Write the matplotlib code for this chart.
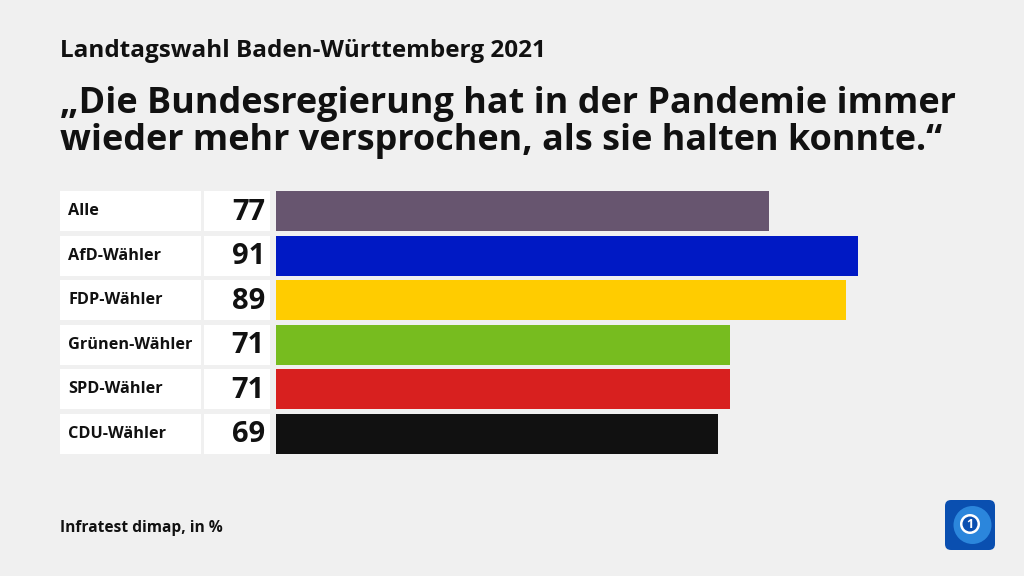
import matplotlib
matplotlib.use("Agg")
import matplotlib.pyplot as plt
from matplotlib.patches import Rectangle, FancyBboxPatch, Circle

categories = ["Alle", "AfD-Wähler", "FDP-Wähler", "Grünen-Wähler", "SPD-Wähler", "CDU-Wähler"]
values = [77, 91, 89, 71, 71, 69]
colors = ["#67556f", "#0019c4", "#ffcc00", "#77bc1f", "#d8201f", "#111111"]

W, H = 1024, 576
BG = "#f0f0f0"
FONT = ["Open Sans", "DejaVu Sans"]

fig = plt.figure(figsize=(W / 100, H / 100), dpi=100, facecolor=BG)

def fx(x):
    return x / W

def fy(y):
    return 1 - y / H

# Titles
fig.text(fx(60), fy(51), "Landtagswahl Baden-Württemberg 2021", fontsize=17.5, fontweight="bold",
         family=FONT, va="center", ha="left", color="#111111")
fig.text(fx(60), fy(104), "„Die Bundesregierung hat in der Pandemie immer", fontsize=25.9, fontweight="bold",
         family=FONT, va="center", ha="left", color="#111111")
fig.text(fx(60), fy(141), "wieder mehr versprochen, als sie halten konnte.“", fontsize=25.9, fontweight="bold",
         family=FONT, va="center", ha="left", color="#111111")

# Bars axis: x from 276 to 916 px for 0..100
top, bottom = 189, 456
ax = fig.add_axes([fx(276), fy(bottom), fx(916) - fx(276), (bottom - top) / H])
ax.set_facecolor("none")
n = len(categories)
pos = list(range(n))
ax.barh(pos, values, height=0.895, color=colors, edgecolor="none")
ax.set_xlim(0, 100)
ax.set_ylim(n - 0.5, -0.5)
ax.axis("off")

# Label boxes and numbers
row_h = (bottom - top) / n
for i, (cat, val) in enumerate(zip(categories, values)):
    yc = top + row_h * (i + 0.5)
    bh = row_h * 0.895
    fig.patches.append(Rectangle((fx(60), fy(yc + bh / 2)), fx(201) - fx(60), bh / H,
                                 transform=fig.transFigure, facecolor="white", edgecolor="none"))
    fig.patches.append(Rectangle((fx(204), fy(yc + bh / 2)), fx(270) - fx(204), bh / H,
                                 transform=fig.transFigure, facecolor="white", edgecolor="none"))
    fig.text(fx(68), fy(yc), cat, fontsize=11.7, fontweight="bold", family=FONT,
             va="center", ha="left", color="#111111")
    fig.text(fx(265), fy(yc + 1), f"{val}", fontsize=21, fontweight="bold", family=FONT,
             va="center", ha="right", color="#111111")

# Footer
fig.text(fx(60), fy(528), "Infratest dimap, in %", fontsize=11.2, fontweight="bold", family=FONT,
         va="center", ha="left", color="#111111")

# Logo
lx0, ly0, ls = 945, 500, 50
lax = fig.add_axes([fx(lx0), fy(ly0 + ls), ls / W, ls / H])
lax.set_xlim(0, 1)
lax.set_ylim(0, 1)
lax.axis("off")
lax.add_patch(FancyBboxPatch((0, 0), 1, 1, boxstyle="round,pad=0,rounding_size=0.12",
                             facecolor="#0a4fb0", edgecolor="none"))
lax.add_patch(Circle((0.55, 0.5), 0.38, facecolor="#2b86dc", edgecolor="none"))
lax.add_patch(Circle((0.5, 0.52), 0.2, facecolor="white", edgecolor="none"))
lax.add_patch(Circle((0.5, 0.52), 0.15, facecolor="#0a4fb0", edgecolor="none"))
lax.text(0.5, 0.52, "1", fontsize=9, fontweight="bold", color="white", ha="center", va="center", family=FONT)

fig.savefig("out.png", dpi=100, facecolor=BG)
